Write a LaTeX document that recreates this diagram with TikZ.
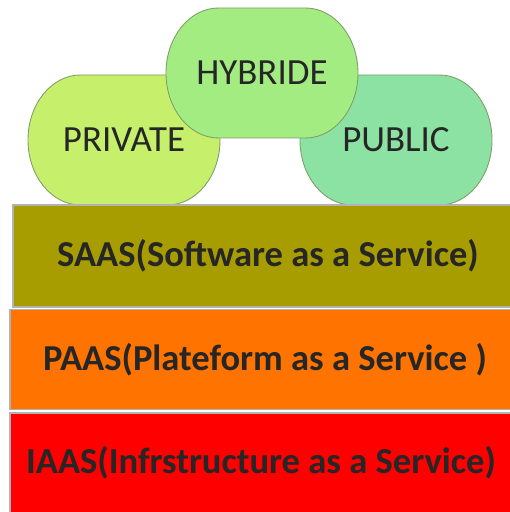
\documentclass[tikz,border=0pt]{standalone}
\usepackage{fontspec}
\setmainfont{Carlito}
\usepackage{xcolor}
\definecolor{privgreen}{HTML}{C6F06C}
\definecolor{hybgreen}{HTML}{A2EC82}
\definecolor{pubgreen}{HTML}{8CE2A2}
\definecolor{cloudline}{HTML}{7F9F6A}
\definecolor{saasolive}{HTML}{A89D00}
\definecolor{paasorange}{HTML}{FF7300}
\definecolor{iaasred}{HTML}{FF0000}
\definecolor{layerline}{gray}{0.7}
\definecolor{txtdark}{HTML}{262626}
\usepackage{tikz}
\usetikzlibrary{positioning,backgrounds}

\begin{document}
\begin{tikzpicture}[
  cloud/.style={
    inner sep=0pt, text=txtdark,
    font=\fontsize{21}{24}\selectfont
  },
  blob/.style={
    draw=cloudline, fill=#1, line width=0.5pt
  },
  layer/.style={
    rectangle, inner sep=0pt,
    minimum width=10.2cm, minimum height=2.0cm,
    draw=layerline, fill=#1,
    line width=0.6pt, text=txtdark,
    font=\bfseries\fontsize{20.8}{24}\selectfont
  }
]
\useasboundingbox (0,0) rectangle (10.18,10.24);

\node[layer=iaasred] (iaas) at (5.3,0.98) {\hspace*{-0.16cm}IAAS(Infrstructure as a Service)};
\node[layer=paasorange] (paas) at (5.3,3.05) {PAAS(Plateform as a Service )};
\node[layer=saasolive, minimum height=2.04cm] (saas) at (5.36,5.12) {SAAS(Software as a Service)};

\node[cloud] (private) at (2.48,7.44) {PRIVATE};
\node[cloud] (public) at (7.92,7.44) {PUBLIC};
\node[cloud] (hybride) at (5.24,8.78) {HYBRIDE};

\begin{scope}[on background layer]
\fill[white] (0,0) rectangle (10.18,10.24);
\foreach \n/\c in {private/privgreen, public/pubgreen, hybride/hybgreen} {
  \draw[blob=\c, shift={(\n.center)}] (-0.87,1.3) -- (0.87,1.3)
    arc[start angle=90, end angle=-90, x radius=1.05cm, y radius=1.3cm]
    -- (-0.87,-1.3)
    arc[start angle=270, end angle=90, x radius=1.05cm, y radius=1.3cm] -- cycle;
}
\end{scope}
\end{tikzpicture}
\end{document}
